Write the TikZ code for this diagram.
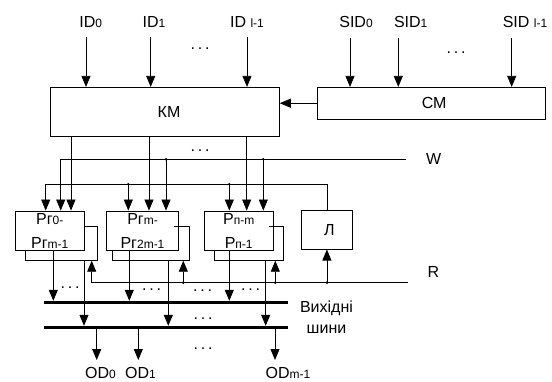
\documentclass[tikz,border=0pt]{standalone}
\usepackage{fontspec}
\setmainfont{Liberation Sans}
\usetikzlibrary{arrows.meta,positioning,calc}

\tikzset{
  box/.style={draw,line width=0.9pt,inner sep=0pt},
  prbox/.style={box,align=center,font=\fontsize{16}{24}\selectfont},
  wire/.style={line width=0.75pt},
  arr/.style={wire,-{Triangle[length=11pt,width=9pt]}},
  bus/.style={line width=3pt},
  lbl/.style={inner sep=0pt},
  dts/.style={inner sep=0pt,anchor=base},
}
\newcommand\sub[1]{{\fontsize{12}{12}\selectfont #1}}
\newcommand\dd{.\kern2.8pt.\kern2.8pt.}

\begin{document}
\begin{tikzpicture}[x=1pt,y=-1pt,font=\fontsize{16}{19}\selectfont]
\useasboundingbox (0,0) rectangle (552,381);
% switching matrix and control matrix
\node[box,minimum width=228.6pt,minimum height=48.7pt] (km) at (165,111.7) {\hspace*{8pt}КМ};
\node[box,minimum width=227.7pt,minimum height=31.7pt] (cm) at (431.2,103.2) {\hspace*{6pt}СМ};
\draw[arr] (cm.west) -- (km.east |- cm.west);
% inputs
\foreach \n/\ax/\lx/\t in {a0/86/90.7/{ID\sub{0}},a1/150.7/154/{ID\sub{1}},a2/247/247/{ID \sub{l-1}}} {
  \node[lbl] (l\n) at (\lx,21.7) {\t};
  \coordinate (\n) at (\ax,37);
  \draw[arr] (\n) -- (\n |- km.north);
}
\foreach \n/\ax/\lx/\t in {s0/350/356/{SID\sub{0}},s1/398.3/410.7/{SID\sub{1}},s2/511.7/525/{SID \sub{l-1}}} {
  \node[lbl] (l\n) at (\lx,21.7) {\t};
  \coordinate (\n) at (\ax,38);
  \draw[arr] (\n) -- (\n |- cm.north);
}
\node[dts] (dt1) at (200,49.5) {\dd};
\node[dts] (dt2) at (456,53.5) {\dd};
% registers
\node[prbox,minimum width=69.3pt,minimum height=39pt] (p0) at (49.7,230.5) {Рг\sub{0-}\\Рг\sub{m-1}};
\node[prbox,minimum width=71.6pt,minimum height=39pt] (p1) at (142.5,230.5) {Рг\sub{m-}\\Рг\sub{2m-1}};
\node[prbox,minimum width=69.3pt,minimum height=39pt] (p2) at (238.7,230.5) {Р\sub{п-m}\\Р\sub{п-1}};
\node[box,minimum width=51.7pt,minimum height=38.3pt] (lam) at (326.9,229.9) {\hspace*{5pt}Л};
% KM outputs
\foreach \n/\x in {k0/71,k1/149,k2/246.7} {
  \coordinate (\n) at (\x,0);
  \draw[arr] (km.south -| \n) -- (p0.north -| \n);
}
\node[dts] (dt3) at (200,151.5) {\dd};
% W line
\coordinate (wL) at (60.7,159.3);
\coordinate (wR) at (406,159.3);
\draw[wire] (wR) -- (wL);
\draw[arr] (wL) -- (wL |- p0.north);
\foreach \n/\x in {w1/166,w2/263.3} {
  \coordinate (\n) at (\x,159.3);
  \fill (\n) circle (1.4pt);
  \draw[arr] (\n) -- (\n |- p0.north);
}
\node[lbl,right=20pt of wR] (wlab) {W};
% second control line
\coordinate (cL) at (45.7,184.3);
\draw[wire] (cL) -- (lam.north |- cL) -- (lam.north);
\draw[arr] (cL) -- (cL |- p0.north);
\foreach \n/\x in {c1/128.3,c2/229.3} {
  \coordinate (\n) at (\x,184.3);
  \fill (\n) circle (1.4pt);
  \draw[arr] (\n) -- (\n |- p0.north);
}
% register loops
\coordinate (l0L) at (25,260.7);  \coordinate (l0R) at (97.3,260.7);
\coordinate (l1L) at (112.3,260.7); \coordinate (l1R) at (189,260.7);
\coordinate (l2L) at (214,260.7); \coordinate (l2R) at (283.3,260.7);
\draw[wire] ([yshift=4.5pt]p0.east) -| (l0R) -- (l0L) -- (l0L |- p0.south);
\draw[wire] ([xshift=-5pt,yshift=4.5pt]p1.east) -| (l1R) -- (l1L) -- (l1L |- p1.south);
\draw[wire] ([xshift=-4.5pt,yshift=4.5pt]p2.east) -| (l2R) -- (l2L) -- (l2L |- p2.south);
% R line
\coordinate (u0) at (91.7,282.7);
\coordinate (rR) at (408,282.7);
\draw[wire] (u0) -- (rR);
\draw[arr] (u0) -- (u0 |- l0L);
\foreach \n/\x in {u1/183.3,u2/275.3} {
  \coordinate (\n) at (\x,282.7);
  \fill (\n) circle (1.4pt);
  \draw[arr] (\n) -- (\n |- l0L);
}
\coordinate (u3) at (lam.south |- rR);
\fill (u3) circle (1.4pt);
\draw[arr] (u3) -- (lam.south);
\node[lbl,anchor=west] (rlab) at ($(rR)+(19.3,-11)$) {R};
% output buses
\coordinate (b1L) at (44.3,302.3); \coordinate (b1R) at (288.3,302.3);
\coordinate (b2L) at (44.3,327.3); \coordinate (b2R) at (288.3,327.3);
\draw[bus] (b1L) -- (b1R);
\draw[bus] (b2L) -- (b2R);
\foreach \n/\x/\pp in {o0/53.3/p0,o1/129.3/p1,o2/229.3/p2} {
  \coordinate (\n) at (\x,0);
  \draw[arr,shorten >=1.5pt] (\pp.south -| \n) -- (b1L -| \n);
}
\foreach \n/\x in {d0/84,d1/168.3,d2/265.7} {
  \coordinate (\n) at (\x,260.7);
  \draw[arr,shorten >=1.5pt] (\n) -- (\n |- b2L);
}
\node[lbl,align=center,font=\fontsize{16}{21}\selectfont] (busl) at (326.5,317) {Вихідні\\шини};
\foreach \n/\x/\y in {dt4/70/286.7,dt5/151.7/289,dt6/202.7/290,dt7/250.7/289,dt8/203/318,dt9/203/347.7} {
  \node[dts] (\n) at (\x,\y+1.5) {\dd};
}
% outputs
\foreach \n/\x/\lx/\t in {e0/96.7/100.5/{OD\sub{0}},e1/138.3/140.5/{OD\sub{1}},e2/275/288/{OD\sub{m-1}}} {
  \coordinate (\n) at (\x,360);
  \draw[arr] (b2L -| \n) -- (\n);
  \node[lbl] (l\n) at (\lx,373) {\t};
}
\end{tikzpicture}
\end{document}
